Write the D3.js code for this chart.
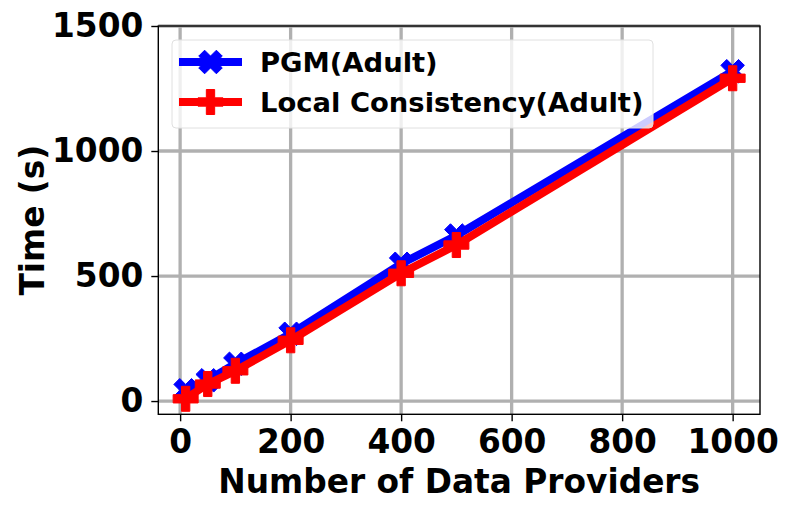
<!DOCTYPE html>
<html>
<head>
<meta charset="utf-8">
<script src="https://cdn.jsdelivr.net/npm/d3@7"></script>
<style>
  body { margin: 0; background: #fff; }
  svg text { font-family: "DejaVu Sans", sans-serif; font-weight: bold; }
</style>
</head>
<body>
<div class="d3-elem"></div>
<script>
// data
const providers = [10, 50, 100, 200, 400, 500, 1000];
const pgmTime = [43, 83, 149, 269, 549, 662, 1319];
const localTime = [9, 68, 121, 243, 511, 624, 1291];
const xTicks = [0, 200, 400, 600, 800, 1000];
const yTicks = [0, 500, 1000, 1500];
const seriesNames = ["PGM(Adult)", "Local Consistency(Adult)"];

const w = 792, h = 514;
const pLeft = 158.3, pRight = 760, pTop = 26, pBottom = 414.3;
const fontBig = 32.8;

const svg = d3.select(".d3-elem").append("svg")
  .attr("width", w)
  .attr("height", h);

const x = d3.scaleLinear().domain([-39.5, 1049.5]).range([pLeft, pRight]);
const y = d3.scaleLinear().domain([-53, 1500]).range([pBottom, pTop]);

// grid
svg.append("g").selectAll("line").data(xTicks).enter().append("line")
  .attr("x1", d => x(d)).attr("x2", d => x(d))
  .attr("y1", pTop).attr("y2", pBottom)
  .attr("stroke", "#b0b0b0").attr("stroke-width", 3.3);
svg.append("g").selectAll("line").data(yTicks).enter().append("line")
  .attr("x1", pLeft).attr("x2", pRight)
  .attr("y1", d => y(d)).attr("y2", d => y(d))
  .attr("stroke", "#b0b0b0").attr("stroke-width", 3.3);

// marker shapes (matplotlib 'X' and 'P')
const plusPts = [[-1,-3],[-1,-1],[-3,-1],[-3,1],[-1,1],[-1,3],[1,3],[1,1],[3,1],[3,-1],[1,-1],[1,-3]];
const ms = 25;
function markerPath(rot) {
  const c = Math.cos(rot), s = Math.sin(rot);
  return "M" + plusPts.map(p => {
    const px = p[0] / 6 * ms, py = p[1] / 6 * ms;
    return [(px * c - py * s).toFixed(2), (px * s + py * c).toFixed(2)].join(",");
  }).join("L") + "Z";
}
const xMarker = markerPath(Math.PI / 4);
const pMarker = markerPath(0);

const line = d3.line().x(d => x(d[0])).y(d => y(d[1]));

function drawSeries(vals, color, marker) {
  const pts = providers.map((p, i) => [p, vals[i]]);
  const g = svg.append("g");
  g.append("path")
    .attr("d", line(pts))
    .attr("fill", "none")
    .attr("stroke", color)
    .attr("stroke-width", 8)
    .attr("stroke-linejoin", "round");
  g.selectAll("path.mk").data(pts).enter().append("path")
    .attr("class", "mk")
    .attr("d", marker)
    .attr("transform", d => "translate(" + x(d[0]) + "," + y(d[1]) + ")")
    .attr("fill", color)
    .attr("stroke", color)
    .attr("stroke-width", 1);
}
drawSeries(pgmTime, "#0000ff", xMarker);
drawSeries(localTime, "#ff0000", pMarker);

// axes
const fmt = d3.format("d");
const xAxis = svg.append("g")
  .attr("transform", "translate(0," + pBottom + ")")
  .call(d3.axisBottom(x).tickValues(xTicks).tickFormat(fmt).tickSize(7).tickPadding(8).tickSizeOuter(0));
const yAxis = svg.append("g")
  .attr("transform", "translate(" + pLeft + ",0)")
  .call(d3.axisLeft(y).tickValues(yTicks).tickFormat(fmt).tickSize(7).tickPadding(8).tickSizeOuter(0));
[xAxis, yAxis].forEach(a => {
  a.selectAll("text").attr("font-size", fontBig).attr("fill", "#000")
    .style("font-family", "'DejaVu Sans', sans-serif").style("font-weight", "bold");
  a.selectAll("line").attr("stroke", "#000").attr("stroke-width", 1.4);
  a.select(".domain").remove();
});

// frame
svg.append("rect")
  .attr("x", pLeft).attr("y", pTop)
  .attr("width", pRight - pLeft).attr("height", pBottom - pTop)
  .attr("fill", "none").attr("stroke", "#000").attr("stroke-width", 1.4);

// axis titles
svg.append("text")
  .attr("x", (pLeft + pRight) / 2).attr("y", 493)
  .attr("text-anchor", "middle")
  .attr("font-size", fontBig)
  .text("Number of Data Providers");
svg.append("text")
  .attr("transform", "translate(44," + ((pTop + pBottom) / 2) + ") rotate(-90)")
  .attr("text-anchor", "middle")
  .attr("font-size", fontBig)
  .text("Time (s)");

// legend
const leg = svg.append("g");
leg.append("rect")
  .attr("x", 172).attr("y", 40)
  .attr("width", 481).attr("height", 88)
  .attr("rx", 4)
  .attr("fill", "#fff").attr("fill-opacity", 0.8)
  .attr("stroke", "#e0e0e0").attr("stroke-width", 1);
const legColors = ["#0000ff", "#ff0000"];
const legMarkers = [xMarker, pMarker];
seriesNames.forEach((name, i) => {
  const ly = 62 + i * 40;
  leg.append("line")
    .attr("x1", 179).attr("x2", 242)
    .attr("y1", ly).attr("y2", ly)
    .attr("stroke", legColors[i]).attr("stroke-width", 8);
  leg.append("path")
    .attr("d", legMarkers[i])
    .attr("transform", "translate(210.5," + ly + ")")
    .attr("fill", legColors[i]).attr("stroke", legColors[i]);
  leg.append("text")
    .attr("x", 260).attr("y", ly + 10)
    .attr("font-size", 27.4)
    .text(name);
});
</script>
</body>
</html>
